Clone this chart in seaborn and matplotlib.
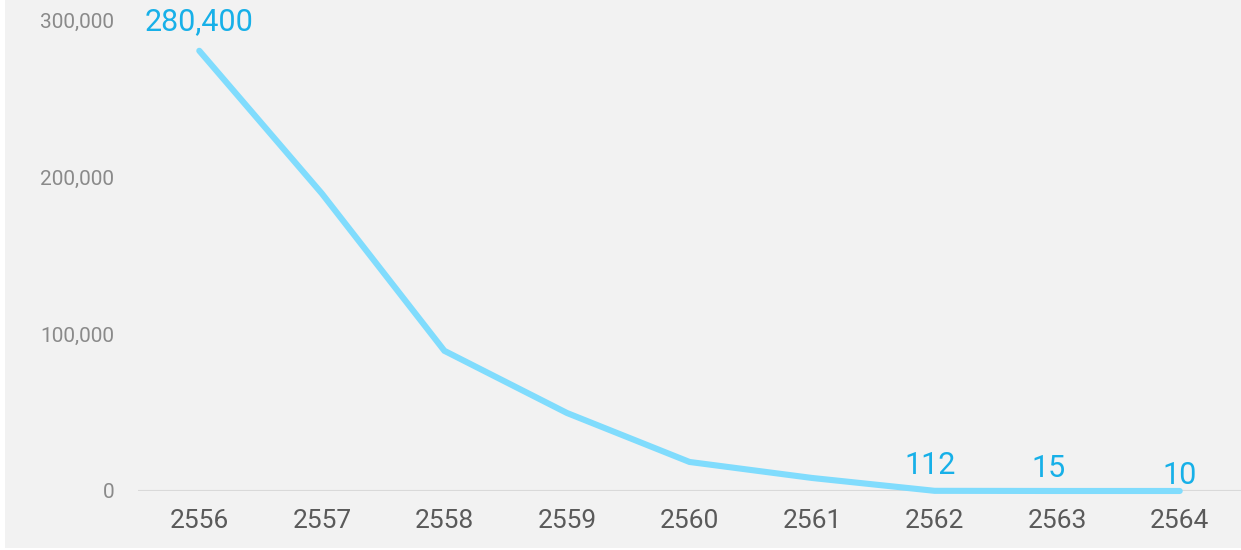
import matplotlib
matplotlib.use("Agg")
import matplotlib.pyplot as plt
from matplotlib.patches import Rectangle
from matplotlib.ticker import FuncFormatter
import pandas as pd
import seaborn as sns

# Yearly counts (Buddhist era years)
years = ["2556", "2557", "2558", "2559", "2560", "2561", "2562", "2563", "2564"]
counts = [280400, 189500, 89300, 49700, 18500, 8300, 112, 15, 10]

# Values that carry a printed label, with the label offset in points
labelled_years = ["2556", "2562", "2563", "2564"]
label_offsets = [(0, 21), (-3, 18.5), (-6, 16.5), (0, 11)]

y_ticks = [0, 100000, 200000, 300000]

df = pd.DataFrame({"year": years, "count": counts})

sns.set_theme(style="white")
plt.rcParams["font.family"] = ["Roboto", "DejaVu Sans"]

BG = "#f2f2f2"
LINE = "#80dcfd"
LABEL = "#17b0e8"

fig = plt.figure(figsize=(12.41, 5.5), dpi=100)
fig.patch.set_facecolor("white")
fig.add_artist(Rectangle((5 / 1241, 2 / 550), 1 - 5 / 1241, 1 - 2 / 550,
                         transform=fig.transFigure, facecolor=BG,
                         edgecolor="none", zorder=0))

ax = fig.add_axes([138 / 1241, 1 - 491 / 550, 1 - 138 / 1241, (491 - 20) / 550])
ax.set_facecolor(BG)

sns.lineplot(data=df, x="year", y="count", sort=False, ax=ax, color=LINE,
             linewidth=4.4, solid_capstyle="round", solid_joinstyle="miter",
             zorder=3, clip_on=False)

ax.set_xlim(-0.5, len(years) - 0.5)
ax.set_ylim(0, 300000)
ax.set_yticks(y_ticks)
ax.yaxis.set_major_formatter(FuncFormatter(lambda v, p: f"{int(v):,}"))

ax.axhline(0, color="#d9d9d9", linewidth=1.5, zorder=2)

for s in ax.spines.values():
    s.set_visible(False)
ax.grid(False)

ax.tick_params(axis="x", length=0, pad=13, labelsize=19, labelcolor="#5a5a5a")
ax.tick_params(axis="y", length=0, pad=17, labelsize=15, labelcolor="#8a8a8a")
ax.set_xlabel("")
ax.set_ylabel("")

for yr, off in zip(labelled_years, label_offsets):
    i = years.index(yr)
    v = counts[i]
    ax.annotate(f"{v:,}", xy=(i, v), xytext=off, textcoords="offset points",
                ha="center", va="center", fontsize=22, color=LABEL,
                annotation_clip=False, zorder=4)

fig.savefig("out.png", dpi=100, facecolor=fig.get_facecolor())
